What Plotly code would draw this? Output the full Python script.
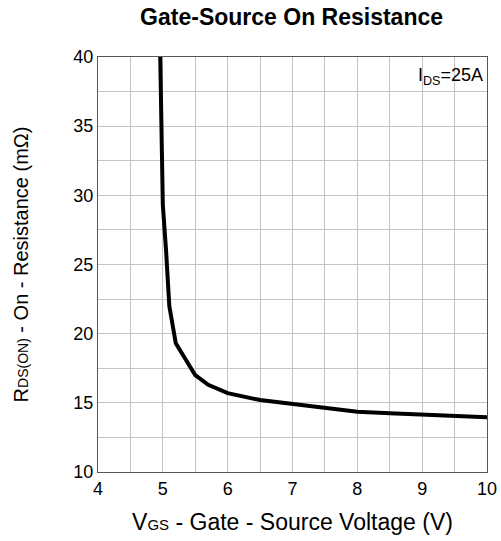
import plotly.graph_objects as go

vgs = [4.96, 5.0, 5.05, 5.1, 5.2, 5.5, 5.7, 6.0, 6.5, 7.0, 7.5, 8.0, 8.5, 9.0, 9.5, 10.0]
rds = [40.0, 29.3, 26.0, 22.0, 19.3, 17.0, 16.3, 15.7, 15.2, 14.9, 14.6, 14.35, 14.25, 14.15, 14.05, 13.95]

x_ticks = [4, 5, 6, 7, 8, 9, 10]
y_ticks = [10, 15, 20, 25, 30, 35, 40]

font_family = "Liberation Sans, Arial, sans-serif"

fig = go.Figure()
fig.add_trace(go.Scatter(x=vgs, y=rds, mode="lines",
                         line=dict(color="black", width=4),
                         showlegend=False, hoverinfo="skip"))

fig.update_layout(
    width=501, height=541,
    margin=dict(l=98, r=14, t=57, b=69),
    paper_bgcolor="white", plot_bgcolor="white",
    font=dict(family=font_family, color="black"),
    title=dict(text="<b>Gate-Source On Resistance</b>", x=0.582, xanchor="center",
               y=0.968, yanchor="middle", font=dict(size=23, family=font_family)),
    xaxis=dict(range=[4, 10], tickvals=x_ticks, ticktext=[str(v) for v in x_ticks],
               automargin=False,
               showgrid=True, gridcolor="#c4c4c4", gridwidth=1,
               minor=dict(dtick=0.5, showgrid=True, gridcolor="#c4c4c4", gridwidth=1),
               showline=True, linecolor="#555555", linewidth=1, mirror=True,
               ticks="", tickfont=dict(size=18), zeroline=False,
               title=dict(text="V<span style='font-size:15px'>GS</span> - Gate - Source Voltage (V)",
                          font=dict(size=23), standoff=16)),
    yaxis=dict(range=[10, 40], tickvals=y_ticks, ticktext=[str(v) for v in y_ticks],
               automargin=False,
               showgrid=True, gridcolor="#c4c4c4", gridwidth=1,
               minor=dict(dtick=2.5, showgrid=True, gridcolor="#c4c4c4", gridwidth=1),
               showline=True, linecolor="#555555", linewidth=1, mirror=True,
               ticks="", tickfont=dict(size=18), zeroline=False,
               title=dict(text="R<span style='font-size:14px'>DS(ON)</span> - On - Resistance (mΩ)",
                          font=dict(size=20), standoff=39)),
    annotations=[dict(x=0.995, y=0.985, xref="paper", yref="paper", xanchor="right", yanchor="top",
                      text="I<sub>DS</sub>=25A", showarrow=False, font=dict(size=18))],
)

fig.write_html("out.html")
